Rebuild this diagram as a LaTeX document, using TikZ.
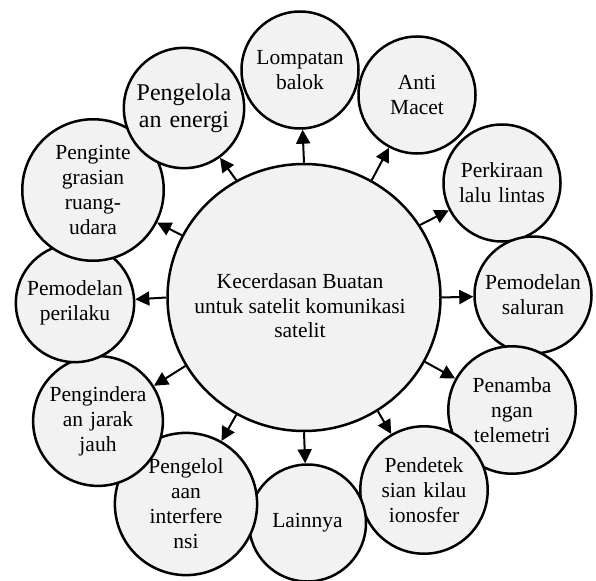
\documentclass[tikz,border=0pt]{standalone}
\usepackage{fontspec}
\setmainfont{Liberation Serif}
\usetikzlibrary{arrows.meta,shapes.geometric,calc}
\definecolor{bubble}{HTML}{F2F2F2}
\tikzset{
  hub/.style={ellipse, draw, line width=2.5pt, fill=bubble, inner sep=0pt,
    minimum width=273pt, minimum height=267pt},
  topic/.style={circle, draw, line width=2.5pt, fill=bubble, inner sep=0pt,
    minimum size=117pt, align=center, text width=110pt,
    font=\fontsize{21.5}{25}\selectfont},
  bigtopic/.style={topic, font=\fontsize{24}{27}\selectfont},
  link/.style={line width=2pt, -{Triangle[length=14pt,width=14pt]}},
}
\begin{document}
\begin{tikzpicture}[x=1pt,y=-1pt]
\useasboundingbox (0,0) rectangle (596,580);
\fill[white] (0,0) rectangle (596,580);

% central topic
\node[hub] (c) at (304,297.5) {};
\node[align=center, font=\fontsize{21.5}{24.5}\selectfont] (ctext) at (300,306)
  {Kecerdasan Buatan\\untuk satelit komunikasi\\satelit};

% surrounding applications
\node[topic] (lomp) at (300,70) {Lompatan\\balok};
\node[topic] (anti) at (417,95) {Anti\\Macet};
\node[topic] (perk) at (502,183) {Perkiraan\\lalu lintas};
\node[topic] (sal) at (533,295) {Pemodelan\\saluran};
\node[topic] (tele) at (512,410) {Penamba\\ngan\\telemetri};
\node[topic] (iono) at (424,490) {Pendetek\\sian kilau\\ionosfer};
\node[topic] (lain) at (307.5,523) {Lainnya};
\node[topic] (intf) at (186,504) {Pengelol\\aan\\interfere\\nsi};
\node[topic] (jauh) at (98,421) {Penginder\-a\\an jarak\\jauh};
\node[topic] (peri) at (75,303) {Pemodelan\\perilaku};
\node[topic] (ruang) at (93,190) {Penginte\\grasian\\ruang-\\udara};
\node[bigtopic] (ener) at (184,108) {Pengelola\\an energi};

% connectors from the hub
\draw[link] (c.90) -- (lomp);
\draw[link] (c.60) -- (anti);
\draw[link] (c.32) -- (perk);
\draw[link] (c.0) -- (sal);
\draw[link] (c.-28) -- (tele);
\draw[link] (c.-57) -- (iono);
\draw[link] (c.-90) -- (lain);
\draw[link] (c.-120) -- (intf);
\draw[link] (c.-150) -- (jauh);
\draw[link] (c.180) -- (peri);
\draw[link] (c.153) -- (ruang);
\draw[link] (c.120) -- (ener);
\end{tikzpicture}
\end{document}
